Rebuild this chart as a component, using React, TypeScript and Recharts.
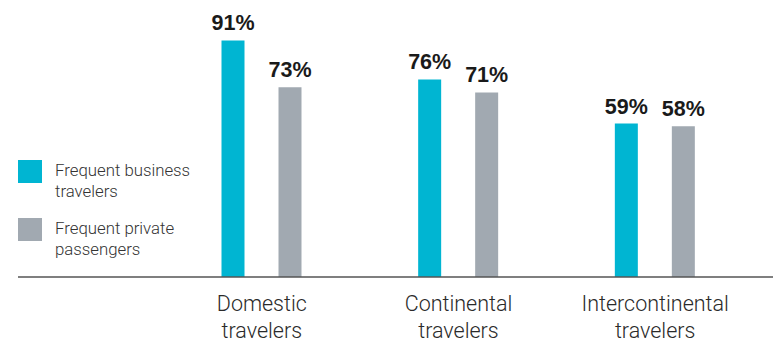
import React from 'react';
import { BarChart, Bar, XAxis, YAxis, LabelList } from 'recharts';

const categories = ['Domestic travelers', 'Continental travelers', 'Intercontinental travelers'];
const businessValues = [91, 76, 59];
const privateValues = [73, 71, 58];
const legendLines = [
  ['Frequent business', 'travelers'],
  ['Frequent private', 'passengers'],
];

const BLUE = '#00B5D2';
const GRAY = '#A1A9B1';
const seriesColors = [BLUE, GRAY];

const data = categories.map((c, i) => ({
  name: c,
  business: businessValues[i],
  private: privateValues[i],
}));

const Tick = (props: any) => {
  const { x, y, payload } = props;
  const words = String(payload.value).split(' ');
  return (
    <text
      x={x}
      y={y}
      textAnchor="middle"
      fill="#2a2a2a"
      style={{ fontFamily: 'Roboto', fontWeight: 300, fontSize: 21.5 }}
    >
      <tspan x={x} dy={33.5}>{words[0]}</tspan>
      <tspan x={x} dy={27.5}>{words[1]}</tspan>
    </text>
  );
};

const LegendBox = () => (
  <div style={{ position: 'absolute', left: 18, top: 160, width: 200, height: 110 }}>
    {legendLines.map((lines, i) => (
      <div key={i} style={{ position: 'absolute', left: 0, top: i * 58 }}>
        <div style={{ position: 'absolute', left: 0, top: 0, width: 24, height: 23, background: seriesColors[i] }} />
        <div
          style={{
            position: 'absolute',
            left: 37,
            top: 0,
            width: 170,
            fontFamily: 'Roboto',
            fontWeight: 300,
            fontSize: 16.8,
            lineHeight: '21px',
            color: '#333',
            whiteSpace: 'nowrap',
          }}
        >
          {lines.map((l, j) => (
            <div key={j}>{l}</div>
          ))}
        </div>
      </div>
    ))}
  </div>
);

const labelStyle = { fontFamily: 'Liberation Sans', fontWeight: 700, fontSize: 21.5, fill: '#1a1a1a' };

export default function App() {
  return (
    <div style={{ position: 'absolute', left: 0, top: 0, width: 775, height: 342, background: '#fff' }}>
      <BarChart
        width={775}
        height={342}
        data={data}
        margin={{ top: 17, right: 2, left: 18, bottom: 0 }}
        barSize={23}
        barGap={34}
      >
        <XAxis
          dataKey="name"
          height={65}
          padding={{ left: 145.5, right: 19.5 }}
          tickLine={false}
          tickSize={0}
          tickMargin={0}
          axisLine={{ stroke: '#555', strokeWidth: 1.5 }}
          tick={<Tick />}
          interval={0}
        />
        <YAxis hide domain={[0, 100]} />
        <Bar dataKey="business" fill={BLUE} isAnimationActive={false}>
          <LabelList
            dataKey="business"
            position="top"
            offset={10}
            formatter={(v: any) => `${v}%`}
            style={labelStyle}
          />
        </Bar>
        <Bar dataKey="private" fill={GRAY} isAnimationActive={false}>
          <LabelList
            dataKey="private"
            position="top"
            offset={10}
            formatter={(v: any) => `${v}%`}
            style={labelStyle}
          />
        </Bar>
      </BarChart>
      <LegendBox />
    </div>
  );
}
